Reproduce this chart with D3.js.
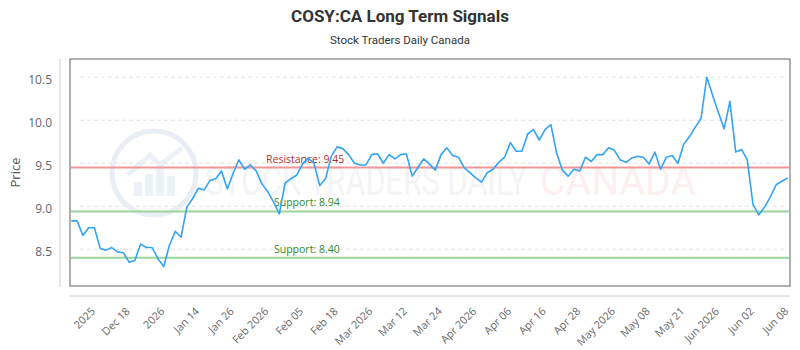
<!DOCTYPE html>
<html>
<head>
<meta charset="utf-8">
<script src="https://cdn.jsdelivr.net/npm/d3@7"></script>
<style>
  body { margin: 0; background: #fff; }
  svg { display: block; }
</style>
</head>
<body>
<svg id="chart" width="800" height="350"></svg>
<script>
// closing prices, one per session
const prices = [
  8.83, 8.83, 8.66, 8.75, 8.75, 8.51, 8.49, 8.52, 8.47, 8.46,
  8.35, 8.37, 8.56, 8.52, 8.52, 8.39, 8.30, 8.55, 8.71, 8.64,
  8.99, 9.09, 9.21, 9.19, 9.30, 9.32, 9.41, 9.20, 9.38, 9.54,
  9.43, 9.48, 9.41, 9.26, 9.17, 9.05, 8.91, 9.27, 9.32, 9.36,
  9.49, 9.56, 9.50, 9.24, 9.32, 9.58, 9.69, 9.67, 9.60, 9.50,
  9.48, 9.48, 9.60, 9.61, 9.50, 9.60, 9.55, 9.60, 9.61, 9.35,
  9.45, 9.55, 9.49, 9.42, 9.60, 9.68, 9.59, 9.57, 9.45, 9.39,
  9.33, 9.28, 9.39, 9.43, 9.51, 9.57, 9.74, 9.64, 9.64, 9.84,
  9.89, 9.77, 9.89, 9.95, 9.62, 9.42, 9.35, 9.43, 9.41, 9.57,
  9.52, 9.60, 9.60, 9.68, 9.65, 9.54, 9.51, 9.56, 9.58, 9.57,
  9.49, 9.63, 9.43, 9.57, 9.59, 9.50, 9.72, 9.81, 9.92, 10.02,
  10.50, 10.29, 10.09, 9.90, 10.22, 9.63, 9.66, 9.54, 9.02, 8.90,
  8.99, 9.11, 9.25, 9.29, 9.33
];

// x labels, one every 6 sessions
const tickLabels = [
  '2025', 'Dec 18', '2026', 'Jan 14', 'Jan 26', 'Feb 2026', 'Feb 05',
  'Feb 18', 'Mar 2026', 'Mar 12', 'Mar 24', 'Apr 2026', 'Apr 06',
  'Apr 16', 'Apr 28', 'May 2026', 'May 08', 'May 21', 'Jun 2026',
  'Jun 02', 'Jun 08'
];
const firstTick = 4
const tickStep = 6

const levelNames = ['Resistance', 'Support', 'Support'];
const levelValues = [9.45, 8.94, 8.40];

const yTicks = [8.5, 9.0, 9.5, 10.0, 10.5];

const svg = d3.select('#chart')
const W = 800, H = 350
const plot = { left: 70, right: 790, top: 59, bottom: 286 }
const fontTick = "'Open Sans', 'DejaVu Sans', sans-serif"
const fontHead = "'Liberation Sans Narrow', 'Roboto', sans-serif"

const x = d3.scaleLinear()
  .domain([0, prices.length - 1])
  .range([plot.left + 1.3, plot.right - 2.3])

const y = d3.scaleLinear()
  .domain([8.073, 10.70])
  .range([286, 60])

svg.append('rect')
  .attr('width', W).attr('height', H)
  .attr('fill', '#fff')

// title + subtitle
svg.append('text')
  .attr('x', W / 2).attr('y', 22)
  .attr('text-anchor', 'middle')
  .attr('font-family', fontHead)
  .attr('font-weight', 'bold')
  .attr('font-size', 17)
  .attr('fill', '#333')
  .text('COSY:CA Long Term Signals')

svg.append('text')
  .attr('x', W / 2).attr('y', 44)
  .attr('text-anchor', 'middle')
  .attr('font-family', fontHead)
  .attr('font-size', 11.5)
  .attr('fill', '#333')
  .text('Stock Traders Daily Canada')

// watermark
const wm = svg.append('g').attr('opacity', 0.4)
wm.append('circle')
  .attr('cx', 154).attr('cy', 173).attr('r', 42)
  .attr('fill', 'none')
  .attr('stroke', '#c9d6ea')
  .attr('stroke-width', 5)
wm.selectAll('rect.wmbar')
  .data([14, 22, 30, 20])
  .join('rect')
  .attr('x', (d, i) => 134 + i * 11)
  .attr('y', d => 196 - d)
  .attr('width', 8)
  .attr('height', d => d)
  .attr('fill', '#d2ddee')
wm.append('path')
  .attr('d', 'M128,175 L150,155 L160,165 L182,148')
  .attr('fill', 'none')
  .attr('stroke', '#d2ddee')
  .attr('stroke-width', 5)
wm.append('text')
  .attr('x', 205).attr('y', 195)
  .attr('font-family', fontHead)
  .attr('font-size', 40)
  .attr('textLength', 322)
  .attr('lengthAdjust', 'spacingAndGlyphs')
  .attr('fill', '#dfe5ef')
  .text('STOCK TRADERS DAILY')
wm.append('text')
  .attr('x', 540).attr('y', 195)
  .attr('font-family', fontHead)
  .attr('font-size', 40)
  .attr('textLength', 156)
  .attr('lengthAdjust', 'spacingAndGlyphs')
  .attr('fill', '#fcd8d8')
  .text('CANADA')

// grid
svg.append('g')
  .selectAll('line')
  .data(yTicks)
  .join('line')
  .attr('x1', 80).attr('x2', 784)
  .attr('y1', d => y(d)).attr('y2', d => y(d))
  .attr('stroke', '#e3e3e3')
  .attr('stroke-dasharray', '4,3')

// plot border
svg.append('rect')
  .attr('x', plot.left).attr('y', plot.top)
  .attr('width', plot.right - plot.left)
  .attr('height', plot.bottom - plot.top)
  .attr('fill', 'none')
  .attr('stroke', '#7a7a7a')
  .attr('stroke-width', 1.2)

// y axis
const yAxis = svg.append('g')
  .attr('transform', `translate(60,0)`)
  .call(d3.axisLeft(y).tickValues(yTicks).tickFormat(d3.format('.1f')).tickSize(0).tickPadding(8))
yAxis.select('.domain')
  .attr('d', `M0,${plot.top}V${plot.bottom + 1}`)
  .attr('stroke', '#cccccc')
yAxis.selectAll('text')
  .attr('font-family', fontTick)
  .attr('font-size', 12)
  .attr('fill', '#666')
  .attr('dy', '0.55em')

svg.append('text')
  .attr('transform', `translate(20,${(plot.top + plot.bottom) / 2}) rotate(-90)`)
  .attr('text-anchor', 'middle')
  .attr('font-family', fontTick)
  .attr('font-size', 13)
  .attr('fill', '#555')
  .text('Price')

// x axis
const tickIdx = tickLabels.map((d, i) => firstTick + i * tickStep)
const xAxis = svg.append('g')
  .attr('transform', `translate(0,296)`)
  .call(d3.axisBottom(x).tickValues(tickIdx)
    .tickFormat((d, i) => tickLabels[i]).tickSize(0).tickPadding(0))
xAxis.select('.domain')
  .attr('d', `M${plot.left},0H${plot.right}`)
  .attr('stroke', '#cccccc')
xAxis.selectAll('text')
  .attr('font-family', fontTick)
  .attr('font-size', 10.8)
  .attr('fill', '#666')
  .attr('text-anchor', 'end')
  .attr('dy', 0)
  .attr('transform', 'translate(1,16) rotate(-45)')

// support / resistance levels
const levels = levelValues.map((v, i) => ({ name: levelNames[i], value: v }))
svg.append('g')
  .selectAll('line')
  .data(levels)
  .join('line')
  .attr('x1', plot.left + 1).attr('x2', plot.right - 1)
  .attr('y1', d => y(d.value)).attr('y2', d => y(d.value))
  .attr('stroke', d => d.name === 'Resistance' ? '#f08c8c' : '#8fcf8f')
  .attr('stroke-opacity', 0.9)
  .attr('stroke-width', 2)

svg.append('g')
  .selectAll('text')
  .data(levels)
  .join('text')
  .attr('x', d => d.name === 'Resistance' ? 266 : 274)
  .attr('y', d => y(d.value) - 5)
  .attr('font-family', fontTick)
  .attr('font-size', 10.5)
  .attr('fill', d => d.name === 'Resistance' ? '#b03030' : '#2e8b2e')
  .text(d => `${d.name}: ${d.value.toFixed(2)}`)

// price line
svg.append('path')
  .datum(prices)
  .attr('fill', 'none')
  .attr('stroke', '#33a3f4')
  .attr('stroke-width', 1.6)
  .attr('stroke-linejoin', 'round')
  .attr('d', d3.line().x((d, i) => x(i)).y(d => y(d)))
</script>
</body>
</html>
